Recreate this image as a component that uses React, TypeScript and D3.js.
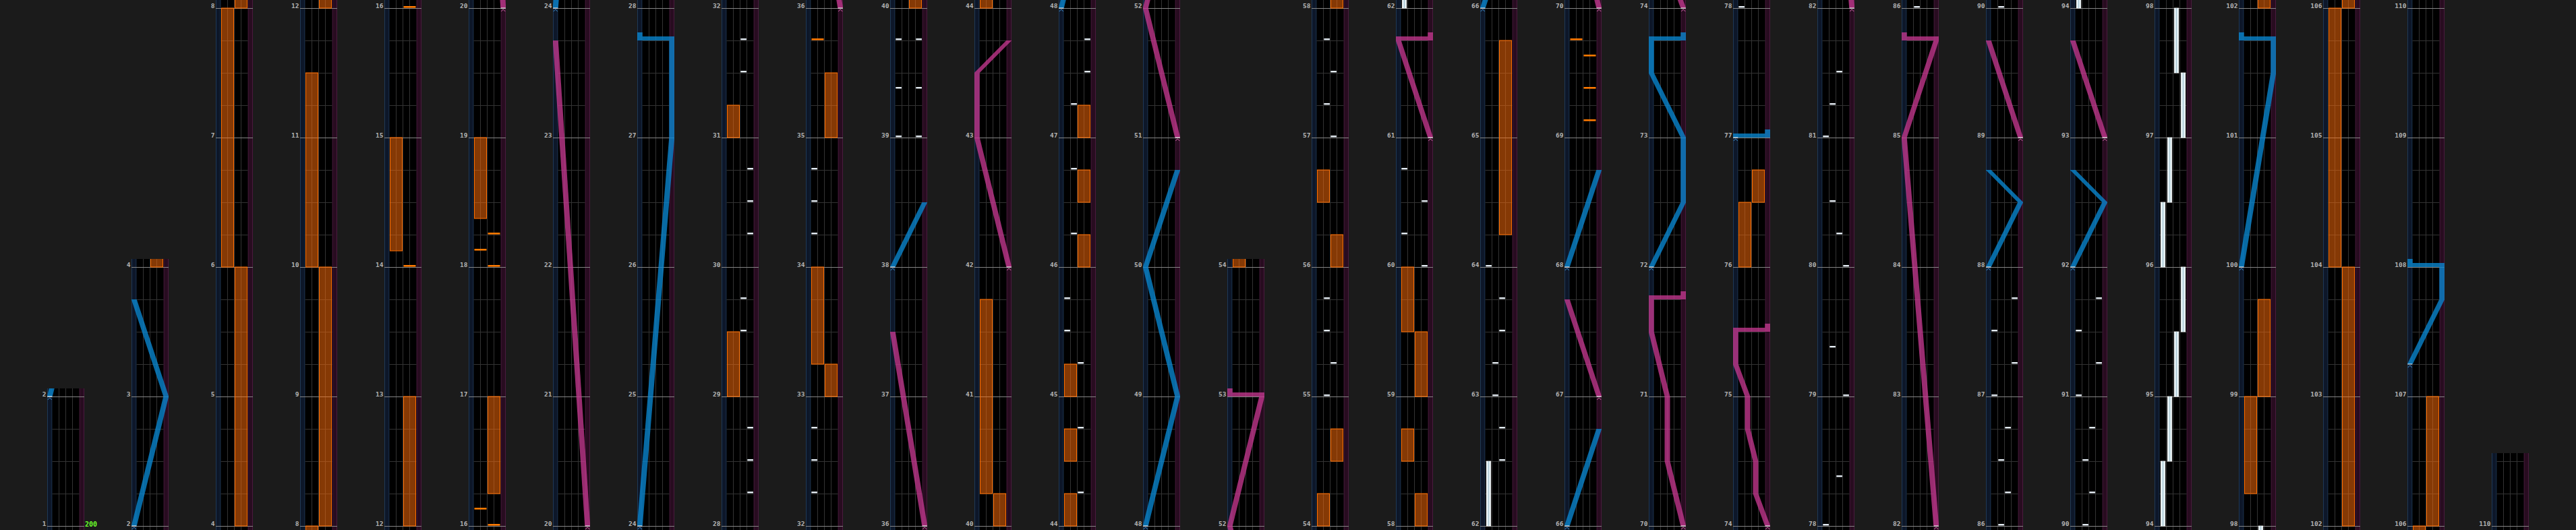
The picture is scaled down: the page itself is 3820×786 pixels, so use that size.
import React from 'react';
import * as d3 from 'd3';

const WIDTH = 3820;
const HEIGHT = 786;

// ---- layout of the chart columns (measure ranges) ----
const columnStart = [1, 2, 4, 8, 12, 16, 20, 24, 28, 32, 36, 40, 44, 48, 52, 54, 58, 62, 66, 70, 74, 78, 82, 86, 90, 94, 98, 102, 106, 110];
const columnEnd = [2, 4, 8, 12, 16, 20, 24, 28, 32, 36, 40, 44, 48, 52, 54, 58, 62, 66, 70, 74, 78, 82, 86, 90, 94, 98, 102, 106, 110, 110.5];

// ---- tempo labels [measure, text] ----
const bpmLabels: [number, string][] = [[1, '200']];

// ---- BT chips [measure, lane 0..3] ----
const btChips: [number, number][] = [
  [28.25, 3], [28.5, 3], [28.75, 3], [29.5, 2], [29.75, 2], [30.25, 3], [30.5, 3], [30.75, 3], [31.5, 2], [31.75, 2],
  [32.25, 0], [32.5, 0], [32.75, 0], [34.25, 0], [34.5, 0], [34.75, 0],
  [39, 0], [39.375, 0], [39.75, 0], [39, 3], [39.375, 3], [39.75, 3],
  [44.25, 2], [44.75, 2], [45.25, 2], [45.5, 0], [45.75, 0], [46.25, 1], [46.75, 1], [47.25, 1], [47.5, 3], [47.75, 3],
  [55, 1], [55.25, 2], [55.5, 1], [55.75, 1], [57, 2], [57.25, 1], [57.5, 2], [57.75, 1],
  [60, 3], [60.25, 0], [60.5, 3], [60.75, 0],
  [62.5, 2], [62.75, 2], [63, 1], [63.25, 1], [63.5, 2], [63.75, 2], [64, 0],
  [78, 0], [78.375, 2], [79, 3], [79.375, 1], [80, 3], [80.25, 2], [80.5, 1], [81, 0], [81.25, 1], [81.5, 2],
  [86, 1], [86.25, 2], [86.5, 1], [86.75, 2], [87, 0], [87.25, 3], [87.5, 0], [87.75, 3],
  [90, 1], [90.25, 2], [90.5, 1], [90.75, 2], [91, 0], [91.25, 3], [91.5, 0], [91.75, 3],
];

// ---- FX chips [measure, side 0=L 1=R] ----
const fxChips: [number, number][] = [
  [14, 1], [16, 1], [16.125, 0], [18, 1], [18.125, 0], [18.25, 1], [35.75, 0],
  [69.125, 1], [69.375, 1], [69.625, 1], [69.75, 0],
];

// ---- BT long notes [from, to, lane] ----
const btHolds: [number, number, number][] = [
  [62, 62.5, 0], [94, 94.5, 0], [94.5, 95, 1], [95, 95.5, 2], [95.5, 96, 3],
  [96, 96.5, 0], [96.5, 97, 1], [97, 97.5, 3], [97.5, 98, 2],
];

// ---- FX long notes [from, to, side] ----
const fxHolds: [number, number, number][] = [
  [4, 6, 1], [6, 8, 0], [8, 10, 1], [10, 11.5, 0], [12, 13, 1], [14.125, 15, 0], [16.25, 17, 1], [18.375, 19, 0],
  [29, 29.5, 0], [31, 31.25, 0], [33, 33.25, 1], [33.25, 34, 0], [35, 35.5, 1],
  [40, 40.25, 1], [40.25, 41.75, 0],
  [44, 44.25, 0], [44.5, 44.75, 0], [45, 45.25, 0], [46, 46.25, 1], [46.5, 46.75, 1], [47, 47.25, 1],
  [54, 54.25, 0], [54.5, 54.75, 1], [56, 56.25, 1], [56.5, 56.75, 0],
  [58, 58.25, 1], [58.5, 58.75, 0], [59, 59.5, 1], [59.5, 60, 0],
  [64.25, 65.75, 1], [76, 76.5, 0], [76.5, 76.75, 1],
  [98.25, 99, 0], [99, 99.75, 1], [102, 104, 1], [104, 106, 0], [106, 107, 1],
];

// ---- lasers: lists of [measure, position 0..1]; equal measures = slam ----
const leftLasers: [number, number][][] = [
  [[2, 0], [3, 1], [3.75, 0]],
  [[24, 0], [27, 1], [27.75, 1], [27.75, 0]],
  [[38, 0], [38.5, 1]],
  [[48, 0], [49, 1], [50, 0], [50.75, 1]],
  [[66, 0], [66.75, 1]],
  [[68, 0], [68.75, 1]],
  [[72, 0], [72.5, 1], [73, 1], [73.5, 0], [73.75, 0], [73.75, 1]],
  [[77, 0], [77, 1]],
  [[88, 0], [88.5, 1], [88.75, 0]],
  [[92, 0], [92.5, 1], [92.75, 0]],
  [[100, 0], [101.5, 1], [101.75, 1], [101.75, 0]],
  [[107.25, 0], [107.75, 1], [108, 1], [108, 0]],
];

const rightLasers: [number, number][][] = [
  [[20, 1], [23.75, 0]],
  [[36, 1], [37.5, 0]],
  [[42, 1], [43, 0], [43.5, 0], [43.75, 1]],
  [[51, 1], [52, 0], [53, 1], [53, 0]],
  [[61, 1], [61.75, 0], [61.75, 1]],
  [[67, 1], [67.75, 0]],
  [[70, 1], [70.5, 0.5], [71, 0.5], [71.5, 0], [71.75, 0], [71.75, 1]],
  [[74, 1], [74.25, 0.625], [74.5, 0.625], [74.75, 0.375], [75, 0.375], [75.25, 0], [75.5, 0], [75.5, 1]],
  [[82, 1], [85, 0], [85.75, 1], [85.75, 0]],
  [[89, 1], [89.75, 0]],
  [[93, 1], [93.75, 0]],
];

const SLAM = 1 / 32;
const PAD_M = 12 / 192;

const line = d3.line();

function laserShapes(pts: [number, number][], y: (t: number) => number, lx: (v: number) => number, hw: number) {
  const shapes: string[] = [];
  const poly = (p: [number, number][]) => (line(p) || '') + 'Z';
  for (let i = 0; i < pts.length - 1; i++) {
    const [t0, v0] = pts[i];
    const [t1, v1] = pts[i + 1];
    if (t1 === t0) {
      const xa = Math.min(lx(v0), lx(v1)) - hw;
      const xb = Math.max(lx(v0), lx(v1)) + hw;
      shapes.push(poly([[xa, y(t0)], [xb, y(t0)], [xb, y(t0 + SLAM)], [xa, y(t0 + SLAM)]]));
    } else {
      const prevSlam = i > 0 && pts[i - 1][0] === t0;
      const ta = prevSlam ? t0 + SLAM : t0;
      shapes.push(poly([[lx(v0) - hw, y(ta)], [lx(v0) + hw, y(ta)], [lx(v1) + hw, y(t1)], [lx(v1) - hw, y(t1)]]));
    }
  }
  const n = pts.length;
  if (n >= 2 && pts[n - 1][0] === pts[n - 2][0]) {
    const [t, v] = pts[n - 1];
    shapes.push(poly([[lx(v) - hw, y(t + SLAM)], [lx(v) + hw, y(t + SLAM)], [lx(v) + hw, y(t + 2 * SLAM)], [lx(v) - hw, y(t + 2 * SLAM)]]));
  }
  return shapes;
}

function Column({ index }: { index: number }) {
  const s = columnStart[index];
  const e = columnEnd[index];
  const colX = d3.scaleLinear().domain([0, 1]).range([70, 195]);
  const left = colX(index);
  const y = d3.scaleLinear().domain([s, s + 1]).range([780, 588]);
  const top = y(e) - 12;
  const bottom = y(s) + 12;
  const lo = s - PAD_M;
  const hi = e + PAD_M;
  const laneX = d3.scaleLinear().domain([0, 4]).range([left + 7.5, left + 47.5]);
  const lx = d3.scaleLinear().domain([0, 1]).range([left + 3.75, left + 51.25]);
  const clipId = `clip-${index}`;

  const beats: number[] = [];
  for (let k = Math.ceil(lo * 4); k <= Math.floor(hi * 4); k++) {
    if (k % 4 !== 0) beats.push(k / 4);
  }
  const measures: number[] = [];
  for (let m = Math.ceil(s); m <= Math.floor(e); m++) measures.push(m);

  const inRange = (a: number, b: number) => b >= lo - 0.1 && a <= hi + 0.1;

  const renderLasers = (lasers: [number, number][][], color: string, chevron: string) =>
    lasers
      .filter((pts) => inRange(pts[0][0], pts[pts.length - 1][0] + 2 * SLAM))
      .map((pts, li) => {
        const [t0, v0] = pts[0];
        const cx = lx(v0);
        const y0 = y(t0);
        return (
          <g key={li}>
            <g opacity={0.78}>
              {laserShapes(pts, y, lx, 4).map((d, k) => (
                <path key={k} d={d} fill={color} />
              ))}
            </g>
            <line x1={cx - 3.5} x2={cx + 3.5} y1={y0} y2={y0} stroke="#ffffff" strokeWidth={1} />
            <polyline
              points={`${cx - 3},${y0 + 5} ${cx},${y0 + 1.8} ${cx + 3},${y0 + 5}`}
              fill="none"
              stroke={chevron}
              strokeWidth={1}
            />
          </g>
        );
      });

  return (
    <g>
      <defs>
        <clipPath id={clipId}>
          <rect x={left} y={top} width={55} height={bottom - top} />
        </clipPath>
      </defs>
      <g clipPath={`url(#${clipId})`}>
        {/* strips */}
        <rect x={left} y={top} width={7.5} height={bottom - top} fill="#0d1729" />
        <line x1={left + 0.5} x2={left + 0.5} y1={top} y2={bottom} stroke="#1e3856" />
        <line x1={left + 7} x2={left + 7} y1={top} y2={bottom} stroke="#1e3856" />
        <rect x={left + 47.5} y={top} width={7.5} height={bottom - top} fill="#280c20" />
        <line x1={left + 48} x2={left + 48} y1={top} y2={bottom} stroke="#4a1a3e" />
        <line x1={left + 54.5} x2={left + 54.5} y1={top} y2={bottom} stroke="#4a1a3e" />
        {/* lanes */}
        <rect x={left + 7.5} y={top} width={40} height={bottom - top} fill="#000000" />
        {[1, 2, 3].map((k) => (
          <line key={k} x1={laneX(k)} x2={laneX(k)} y1={top} y2={bottom} stroke="#333333" />
        ))}
        {beats.map((b) => (
          <line key={b} x1={laneX(0)} x2={laneX(4)} y1={Math.round(y(b)) + 0.5} y2={Math.round(y(b)) + 0.5} stroke="#333333" />
        ))}
        {measures.map((m) => (
          <line key={m} x1={left} x2={left + 55} y1={Math.round(y(m)) + 0.5} y2={Math.round(y(m)) + 0.5} stroke="#858585" />
        ))}
        {/* FX holds */}
        {fxHolds
          .filter(([a, b]) => inRange(a, b))
          .map(([a, b, side], k) => (
            <rect
              key={k}
              x={laneX(side * 2) + 1}
              y={y(b)}
              width={18}
              height={y(a) - y(b)}
              fill="rgba(255,110,10,0.52)"
              stroke="#ff6e00"
              strokeWidth={1}
            />
          ))}
        {/* BT holds */}
        {btHolds
          .filter(([a, b]) => inRange(a, b))
          .map(([a, b, lane], k) => (
            <g key={k}>
              <rect x={laneX(lane) + 1.8} y={y(b)} width={6.4} height={y(a) - y(b)} fill="#e6f3f7" stroke="#ffffff" strokeWidth={0.8} />
              <rect x={laneX(lane) + 4.3} y={y(b)} width={1.4} height={y(a) - y(b)} fill="#a6c4d0" />
            </g>
          ))}
        {/* FX chips */}
        {fxChips
          .filter(([t]) => inRange(t, t))
          .map(([t, side], k) => (
            <rect key={k} x={laneX(side * 2) + 1} y={y(t) - 3} width={18} height={2.6} fill="#ff7a00" />
          ))}
        {/* BT chips */}
        {btChips
          .filter(([t]) => inRange(t, t))
          .map(([t, lane], k) => (
            <rect key={k} x={laneX(lane) + 0.8} y={y(t) - 3} width={8.6} height={2.4} fill="#e6eef5" />
          ))}
        {/* lasers */}
        {renderLasers(leftLasers, '#0a88d2', '#3d8fd0')}
        {renderLasers(rightLasers, '#c4388f', '#d869ad')}
      </g>
      {/* measure labels */}
      {measures.map((m) => (
        <text
          key={m}
          x={left - 1.5}
          y={y(m) - 0.3}
          textAnchor="end"
          fontFamily="'DejaVu Sans Mono', monospace"
          fontWeight="bold"
          fontSize={9.5}
          fill="#b3b3b3"
        >
          {m}
        </text>
      ))}
      {bpmLabels
        .filter(([t]) => t >= s && t < e)
        .map(([t, txt]) => (
          <text
            key={txt}
            x={left + 56}
            y={y(t) + 0.5}
            fontFamily="'DejaVu Sans Mono', monospace"
            fontWeight="bold"
            fontSize={10}
            fill="#6cff2a"
          >
            {txt}
          </text>
        ))}
    </g>
  );
}

export default function App() {
  return (
    <svg
      width={WIDTH}
      height={HEIGHT}
      viewBox={`0 0 ${WIDTH} ${HEIGHT}`}
      style={{ position: 'absolute', left: 0, top: 0, display: 'block' }}
    >
      <rect x={0} y={0} width={WIDTH} height={HEIGHT} fill="#1b1b1b" />
      {columnStart.map((_, i) => (
        <Column key={i} index={i} />
      ))}
    </svg>
  );
}
